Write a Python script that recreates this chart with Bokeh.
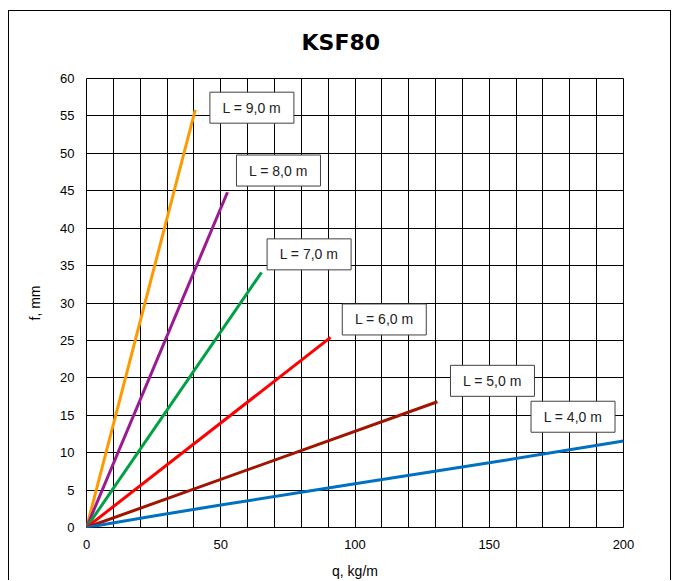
from bokeh.plotting import figure
from bokeh.models import Range1d, FixedTicker, SingleIntervalTicker, ColumnDataSource, Title
from bokeh.embed import file_html
from bokeh.resources import INLINE
from bokeh.core.properties import value

# ---- data ----
title_text = "KSF80"
x_label = "q, kg/m"
y_label = "f, mm"

x_ticks = [0, 50, 100, 150, 200]
y_ticks = [0, 5, 10, 15, 20, 25, 30, 35, 40, 45, 50, 55, 60]

series_names = ["L = 9,0 m", "L = 8,0 m", "L = 7,0 m", "L = 6,0 m", "L = 5,0 m", "L = 4,0 m"]

q_L9 = [0, 40.5]
f_L9 = [0, 55.8]
q_L8 = [0, 52.5]
f_L8 = [0, 44.8]
q_L7 = [0, 65.2]
f_L7 = [0, 34.1]
q_L6 = [0, 90.9]
f_L6 = [0, 25.4]
q_L5 = [0, 130.7]
f_L5 = [0, 16.8]
q_L4 = [0, 25, 50, 100, 150, 200]
f_L4 = [0, 1.55, 3.0, 5.85, 8.65, 11.55]

# label anchor positions (data coords)
label_q = [61.6, 71.5, 82.9, 110.9, 151.2, 181.2]
label_f = [56.1, 47.7, 36.5, 27.8, 19.6, 14.8]

colors = ["#FF9900", "#9C1A91", "#00A045", "#FF0000", "#A01400", "#0070C0"]

FONT = "Liberation Sans"

p = figure(
    width=663, height=570,
    x_range=Range1d(0, 200), y_range=Range1d(0, 60),
    output_backend="svg", toolbar_location=None,
    min_border_left=77, min_border_right=49,
    min_border_top=67, min_border_bottom=51,
)
p.styles = {"border-top": "1px solid black", "border-left": "1px solid black",
            "border-right": "1px solid black", "margin-top": "10px", "margin-left": "8px"}

# spacer (closest to the frame) then the main title above it
spacer = Title(text=" ", text_font_size="6px", standoff=0)
p.add_layout(spacer, "above")
main_title = Title(text=title_text, align="left", offset=215, vertical_align="top",
                   standoff=28, text_font="DejaVu Sans", text_font_style="bold",
                   text_font_size="22px", text_color="black")
p.add_layout(main_title, "above")

p.outline_line_color = "black"
p.outline_line_width = 1
p.background_fill_color = "white"
p.border_fill_color = "white"

# grids
p.xgrid.ticker = SingleIntervalTicker(interval=10)
p.ygrid.ticker = SingleIntervalTicker(interval=5)
for g in (p.xgrid, p.ygrid):
    g.grid_line_color = "black"
    g.grid_line_width = 1
    g.grid_line_alpha = 1

# axes
p.xaxis.ticker = FixedTicker(ticks=x_ticks)
p.yaxis.ticker = FixedTicker(ticks=y_ticks)
p.xaxis.axis_label = x_label
p.yaxis.axis_label = y_label
for ax in (p.xaxis, p.yaxis):
    ax.axis_line_color = None
    ax.major_tick_line_color = None
    ax.minor_tick_line_color = None
    ax.major_tick_out = 0
    ax.major_tick_in = 0
    ax.minor_tick_out = 0
    ax.minor_tick_in = 0
    ax.major_label_text_font = FONT
    ax.major_label_text_font_size = "13px"
    ax.major_label_text_color = "black"
    ax.axis_label_text_font = FONT
    ax.axis_label_text_font_size = "14px"
    ax.axis_label_text_font_style = "normal"
    ax.axis_label_text_color = "black"
p.yaxis.major_label_standoff = 12
p.xaxis.major_label_standoff = 12
p.yaxis.axis_label_standoff = 14
p.xaxis.axis_label_standoff = 11

# lines
qs = [q_L9, q_L8, q_L7, q_L6, q_L5, q_L4]
fs = [f_L9, f_L8, f_L7, f_L6, f_L5, f_L4]
for q, f, c in zip(qs, fs, colors):
    p.line(q, f, line_color=c, line_width=3)

# label boxes
src = ColumnDataSource(dict(x=label_q, y=label_f, t=series_names))
p.rect(x="x", y="y", width=84, height=31, width_units="screen", height_units="screen",
       source=src, fill_color="white", line_color="#404040", line_width=1)
p.text(x="x", y="y", text="t", source=src, text_align="center", text_baseline="middle",
       text_font=value(FONT), text_font_size="14px", text_color="#222222")

open("out.html", "w").write(file_html(p, INLINE))
